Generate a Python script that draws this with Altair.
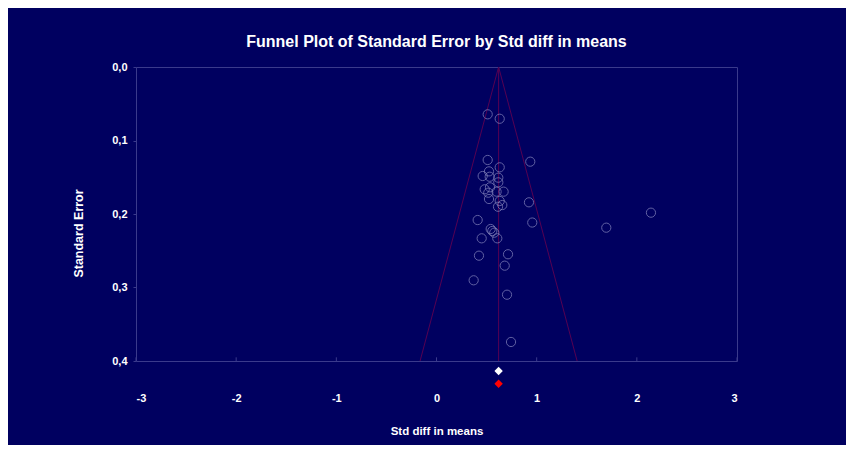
import altair as alt
import pandas as pd

# Study effects (Std diff in means) and standard errors
effect = [0.511, 0.631, 0.511, 0.936, 0.631, 0.524, 0.461, 0.531, 0.617, 0.617,
          0.481, 0.534, 0.517, 0.600, 0.670, 0.524, 0.631, 0.923, 0.657, 0.614,
          0.411, 0.956, 0.541, 0.557, 0.577, 0.451, 0.607, 0.424, 0.714, 0.681,
          0.371, 0.704, 0.744, 2.141, 1.695]
std_err = [0.0644, 0.0704, 0.1265, 0.1288, 0.1365, 0.1420, 0.1483, 0.1493, 0.1506, 0.1569,
           0.1664, 0.1637, 0.1710, 0.1696, 0.1696, 0.1796, 0.1823, 0.1841, 0.1878, 0.1901,
           0.2082, 0.2116, 0.2204, 0.2231, 0.2254, 0.2331, 0.2331, 0.2567, 0.2548, 0.2703,
           0.2902, 0.3098, 0.3741, 0.1982, 0.2186]

# Summary estimates (observed = white, adjusted = red) and their plotting rows
summary_effect = [0.62, 0.62]
summary_row = [0.4136, 0.431]
summary_kind = ["observed", "adjusted"]
summary_color = ["#FFFFFF", "#FF0000"]

mean_effect = 0.62
se_max = 0.4
z = 1.96

x_ticks = [-3, -2, -1, 0, 1, 2, 3]
y_ticks = [0.0, 0.1, 0.2, 0.3, 0.4]

BG = "#000060"
FRAME = "#3A3A8C"
FUNNEL = "#560052"
FONT = "Liberation Sans, Arial, sans-serif"

studies = pd.DataFrame({"effect": effect, "se": std_err})
summ = pd.DataFrame({"effect": summary_effect, "se": summary_row,
                     "kind": summary_kind, "color": summary_color})
funnel = pd.DataFrame({
    "effect": [mean_effect - z * se_max, mean_effect, mean_effect + z * se_max,
               mean_effect, mean_effect],
    "se": [se_max, 0.0, se_max, 0.0, se_max],
    "seg": ["a", "a", "a", "b", "b"],
    "ord": [0, 1, 2, 0, 1],
})
ticks = pd.DataFrame({"effect": x_ticks, "y0": [se_max] * len(x_ticks),
                      "y1": [se_max - 0.005] * len(x_ticks)})

xscale = alt.Scale(domain=[-3, 3], nice=False, zero=False)
yscale = alt.Scale(domain=[0, 0.4], reverse=True, nice=False, zero=False)

xaxis = alt.Axis(values=x_ticks, title="Std diff in means", ticks=False, domain=False,
                 grid=False, labelPadding=31, titlePadding=22,
                 labelExpr="datum.value < 0 ? '-' + abs(datum.value) : '' + datum.value",
                 labelFont=FONT, labelFontWeight="bold", labelFontSize=11, labelColor="white",
                 titleFont=FONT, titleFontWeight="bold", titleFontSize=11.5, titleColor="white")
yaxis = alt.Axis(values=y_ticks, title="Standard Error", tickSize=3, tickColor=FRAME,
                 domain=False, grid=False, labelPadding=6, titlePadding=26, titleY=166,
                 labelExpr="replace(format(datum.value, '.1f'), '.', ',')",
                 labelFont=FONT, labelFontWeight="bold", labelFontSize=11, labelColor="white",
                 titleFont=FONT, titleFontWeight="bold", titleFontSize=12.5, titleColor="white")

lines = alt.Chart(funnel).mark_line(color=FUNNEL, strokeWidth=1).encode(
    x=alt.X("effect:Q", scale=xscale, axis=xaxis),
    y=alt.Y("se:Q", scale=yscale, axis=yaxis),
    detail="seg:N",
    order="ord:Q",
)

pts = alt.Chart(studies).mark_point(shape="circle", filled=False, size=85,
                                    color="#8A8AC0", strokeWidth=1).encode(
    x=alt.X("effect:Q", scale=xscale),
    y=alt.Y("se:Q", scale=yscale),
)

xt = alt.Chart(ticks).mark_rule(color=FRAME, strokeWidth=1).encode(
    x=alt.X("effect:Q", scale=xscale),
    y=alt.Y("y0:Q", scale=yscale),
    y2="y1:Q",
)

diamonds = alt.Chart(summ).mark_point(shape="diamond", filled=True, size=70,
                                      opacity=1, clip=False).encode(
    x=alt.X("effect:Q", scale=xscale),
    y=alt.Y("se:Q", scale=yscale),
    color=alt.Color("color:N", scale=None),
)

chart = alt.layer(lines, xt, pts, diamonds).properties(
    width=601, height=294,
    background=BG,
    padding={"left": 128, "top": 59, "right": 109, "bottom": 84},
    autosize=alt.AutoSizeParams(type="none"),
    title=alt.TitleParams("Funnel Plot of Standard Error by Std diff in means",
                          font=FONT, fontSize=16, fontWeight="bold", color="white",
                          anchor="middle", offset=11),
).configure_view(stroke=FRAME, strokeWidth=1, fill=BG)

chart.save("out.html", embed_options={"renderer": "svg", "actions": False})
